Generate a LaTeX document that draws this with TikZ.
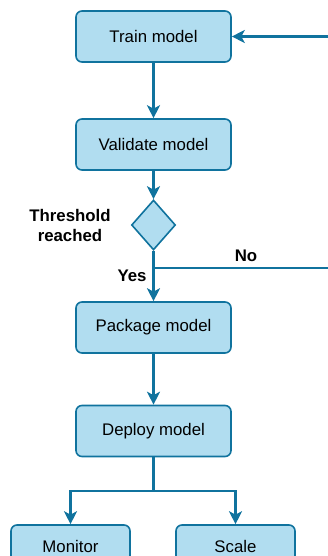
\documentclass[tikz,border=0pt]{standalone}
\usepackage{fontspec}
\setmainfont{Liberation Sans}
\usetikzlibrary{shapes.geometric,arrows.meta}
\definecolor{boxfill}{HTML}{B1DDF0}
\definecolor{boxline}{HTML}{10739E}
\begin{document}
\begin{tikzpicture}[x=1pt,y=-1pt,
  stepbox/.style={draw=boxline,fill=boxfill,line width=1.6pt,rounded corners=6pt,minimum width=155pt,minimum height=51pt,inner sep=0pt,font=\fontsize{16.8}{19}\selectfont},
  smallbox/.style={stepbox,minimum width=119pt,minimum height=42pt},
  decide/.style={draw=boxline,fill=boxfill,line width=1.6pt,shape=diamond,minimum width=44pt,minimum height=50pt,inner sep=0pt},
  conn/.style={draw=boxline,line width=2.2pt,-{Stealth[length=13pt,width=13pt,inset=3.5pt]}},
  lbl/.style={font=\bfseries\fontsize{16.8}{20}\selectfont,align=center,inner sep=0pt}]
\useasboundingbox (0,0) rectangle (327,556);
\node[stepbox] (train) at (153.5,36.5) {Train model};
\node[stepbox] (validate) at (153.5,144.5) {Validate model};
\node[decide] (dec) at (153.5,225) {};
\node[stepbox] (package) at (153.5,327.5) {Package model};
\node[stepbox] (deploy) at (153.5,431) {Deploy model};
\node[smallbox] (monitor) at (70.5,546) {Monitor};
\node[smallbox] (scale) at (235.5,546) {Scale};
\node[lbl] (thr) at (70,225) {Threshold\\reached};
\node[lbl] (no) at (246,256) {No};
\node[lbl] (yes) at (132,276) {Yes};
\coordinate (j) at (153.5,268);
\coordinate (k) at (153.5,491);
\draw[conn] (train) -- (validate);
\draw[conn] (validate) -- (dec);
\draw[conn] (dec) -- (package);
\draw[conn] (package) -- (deploy);
\draw[conn] (j) -- (345,268) |- (train.east);
\draw[draw=boxline,line width=2.2pt] (deploy.south) -- (k);
\draw[conn] (k) -| (monitor.north);
\draw[conn] (k) -| (scale.north);
\end{tikzpicture}
\end{document}
